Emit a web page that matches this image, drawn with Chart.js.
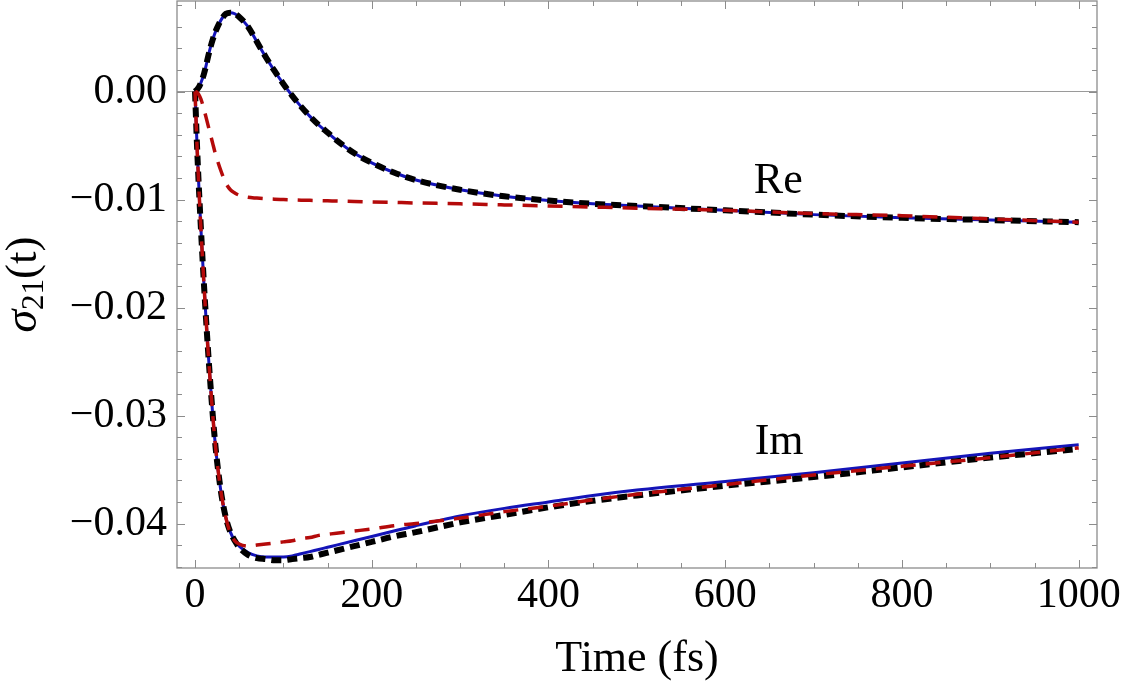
<!DOCTYPE html>
<html>
<head>
<meta charset="utf-8">
<script src="https://cdn.jsdelivr.net/npm/chart.js@4.4.1/dist/chart.umd.min.js"></script>
<style>
  html, body { margin: 0; padding: 0; background: #fff; }
  #wrap { width: 1125px; height: 686px; }
</style>
</head>
<body>
<div id="wrap"><canvas id="sigmaChart"></canvas></div>
<script>
// time grid (fs), shared by all six curves
const times = [0, 2.5, 5, 7.5, 10, 12.5, 15, 17.5, 20, 22.5, 25, 30, 35, 40, 45, 50, 60, 70, 80, 90,
  100, 110, 120, 130, 140, 150, 160, 180, 200, 225, 250, 300, 350, 400, 450, 500, 600, 700, 800, 900, 1000];

// Re part: solid blue, thick black dashed, thin red dashed
const reSolid = [0, 0.0002, 0.0005, 0.0010, 0.0016, 0.0024, 0.0033, 0.0041, 0.0048, 0.0054, 0.0059, 0.0067, 0.0072, 0.0073, 0.0072, 0.0069, 0.0060, 0.0046, 0.0032, 0.0019,
  0.0007, -0.0004, -0.0014, -0.0023, -0.0031, -0.0038, -0.0045, -0.0057, -0.0066, -0.0075, -0.0082, -0.0091, -0.0097, -0.0101, -0.0104, -0.0106, -0.0110, -0.0114, -0.0117, -0.0119, -0.0121];
const reThick = [0, 0.0002, 0.0005, 0.0010, 0.0016, 0.0024, 0.0033, 0.0041, 0.0048, 0.0054, 0.0059, 0.0067, 0.0072, 0.0073, 0.0072, 0.0069, 0.0060, 0.0046, 0.0032, 0.0019,
  0.0007, -0.0004, -0.0014, -0.0023, -0.0031, -0.0038, -0.0045, -0.0057, -0.0066, -0.0075, -0.0082, -0.0091, -0.0097, -0.0101, -0.0104, -0.0106, -0.0110, -0.0114, -0.0117, -0.0119, -0.0121];
const reThin = [0, -0.0001, -0.0004, -0.0009, -0.0016, -0.0024, -0.0032, -0.0040, -0.0048, -0.0056, -0.0063, -0.0075, -0.0085, -0.0091, -0.0094, -0.0096, -0.00980, -0.00987, -0.00993, -0.00997,
  -0.01000, -0.01003, -0.01006, -0.01008, -0.01010, -0.01012, -0.01014, -0.01018, -0.01022, -0.01027, -0.01032, -0.0104, -0.0105, -0.0106, -0.0107, -0.0108, -0.0110, -0.0113, -0.0115, -0.0118, -0.0121];

// Im part
const imSolid = [0, -0.0055, -0.0100, -0.0140, -0.0177, -0.0211, -0.0243, -0.0272, -0.0299, -0.0323, -0.0343, -0.0374, -0.0395, -0.0408, -0.0416, -0.0421, -0.0427, -0.0430, -0.0431, -0.0431,
  -0.0431, -0.0430, -0.0428, -0.0426, -0.0424, -0.0422, -0.0420, -0.0416, -0.0412, -0.0407, -0.0402, -0.0393, -0.0386, -0.0380, -0.0374, -0.0369, -0.0361, -0.0353, -0.0344, -0.0335, -0.0327];
const imThick = [0, -0.0055, -0.0100, -0.0140, -0.0177, -0.0211, -0.0243, -0.0272, -0.0299, -0.0323, -0.0343, -0.0374, -0.0395, -0.0408, -0.0416, -0.0422, -0.0429, -0.0432, -0.0433, -0.0434,
  -0.0434, -0.0433, -0.0432, -0.0431, -0.0429, -0.0427, -0.0425, -0.0421, -0.0417, -0.0412, -0.0408, -0.0399, -0.0392, -0.0385, -0.0379, -0.0374, -0.0365, -0.0357, -0.0348, -0.0339, -0.0331];
const imThin = [0, -0.0055, -0.0100, -0.0140, -0.0177, -0.0211, -0.0243, -0.0272, -0.0299, -0.0323, -0.0343, -0.0374, -0.0395, -0.0409, -0.0416, -0.0419, -0.0421, -0.0420, -0.0419, -0.0418,
  -0.0417, -0.0416, -0.0414, -0.0413, -0.0411, -0.0410, -0.0409, -0.0407, -0.0405, -0.0402, -0.0400, -0.0395, -0.0389, -0.0384, -0.0378, -0.0373, -0.0364, -0.0355, -0.0347, -0.0339, -0.0330];

// in-plot text labels
const noteTexts = ['Re', 'Im'];
const noteX = [660, 661];
const noteY = [-0.0094, -0.0336];

// axes
const xRange = [-20.4, 1020.7];
const yRange = [-0.04412, 0.00838];
const xStep = 200, xMinor = 50;
const yStep = 0.01, yMinor = 0.002;

const SERIF = '"Liberation Serif", "Times New Roman", serif';
Chart.defaults.font.family = SERIF;
Chart.defaults.color = '#000';

const pts = vals => times.map((t, i) => ({ x: t, y: vals[i] }));

function solid(vals) {
  return { data: pts(vals), borderColor: '#1414b8', borderWidth: 3, order: 2 };
}
function thick(vals) {
  return { data: pts(vals), borderColor: '#000', borderWidth: 6, borderDash: [10, 6], order: 1 };
}
function thin(vals) {
  return { data: pts(vals), borderColor: '#b40a0a', borderWidth: 3.5, borderDash: [15, 10], order: 0 };
}

// frame with inward ticks, Re/Im notes and the y title
const decor = {
  id: 'decor',
  afterDraw(chart) {
    const { ctx, chartArea: a, scales: { x, y } } = chart;
    ctx.save();
    ctx.strokeStyle = '#8c8c8c';
    ctx.lineWidth = 1.3;
    ctx.strokeRect(a.left, a.top, a.right - a.left, a.bottom - a.top);
    ctx.beginPath();
    for (let t = 0; t <= 1000; t += xMinor) {
      const len = t % xStep === 0 ? 8 : 5;
      const px = Math.round(x.getPixelForValue(t)) + 0.5;
      ctx.moveTo(px, a.bottom); ctx.lineTo(px, a.bottom - len);
      ctx.moveTo(px, a.top); ctx.lineTo(px, a.top + len);
    }
    for (let k = -22; k <= 4; k++) {
      const len = k % 5 === 0 ? 8 : 5;
      const py = Math.round(y.getPixelForValue(k * yMinor)) + 0.5;
      ctx.moveTo(a.left, py); ctx.lineTo(a.left + len, py);
      ctx.moveTo(a.right, py); ctx.lineTo(a.right - len, py);
    }
    ctx.lineWidth = 1;
    ctx.stroke();

    ctx.fillStyle = '#000';
    ctx.font = '44px ' + SERIF;
    ctx.textAlign = 'center';
    ctx.textBaseline = 'alphabetic';
    noteTexts.forEach((s, i) => {
      ctx.fillText(s, x.getPixelForValue(noteX[i]), y.getPixelForValue(noteY[i]));
    });

    // y title: italic sigma, subscript 21, (t)
    ctx.translate(36, (a.top + a.bottom) / 2);
    ctx.rotate(-Math.PI / 2);
    ctx.textAlign = 'left';
    const fBig = 'italic 46px ' + SERIF, fSub = '31px ' + SERIF, fReg = '45px ' + SERIF;
    ctx.font = fBig; const w1 = ctx.measureText('σ').width;
    ctx.font = fSub; const w2 = ctx.measureText('21').width;
    ctx.font = fReg; const w3 = ctx.measureText('(t)').width;
    let cx = -(w1 + w2 + w3) / 2;
    ctx.font = fBig; ctx.fillText('σ', cx, 0); cx += w1;
    ctx.font = fSub; ctx.fillText('21', cx, 7); cx += w2;
    ctx.font = fReg; ctx.fillText('(t)', cx, 0);
    ctx.restore();
  }
};

new Chart(document.getElementById('sigmaChart'), {
  type: 'line',
  data: {
    datasets: [
      thin(reThin), thick(reThick), solid(reSolid),
      thin(imThin), thick(imThick), solid(imSolid)
    ]
  },
  options: {
    responsive: true,
    maintainAspectRatio: false,
    animation: false,
    layout: { padding: { left: 0, right: 28, top: 1, bottom: 0 } },
    elements: {
      point: { radius: 0 },
      line: { cubicInterpolationMode: 'monotone', fill: false, borderCapStyle: 'butt' }
    },
    plugins: { legend: { display: false }, tooltip: { enabled: false } },
    scales: {
      x: {
        type: 'linear',
        min: xRange[0], max: xRange[1],
        afterFit: s => { s.height = 118; s.paddingLeft = 0; s.paddingRight = 0; },
        grid: { display: false },
        border: { display: false },
        ticks: {
          stepSize: xStep, includeBounds: false, padding: -5,
          font: { size: 42 }, color: '#000', maxRotation: 0,
          callback: v => String(Math.round(v))
        },
        title: { display: true, text: 'Time (fs)', font: { size: 44 }, color: '#000', padding: { top: 0, bottom: 0 } }
      },
      y: {
        type: 'linear',
        min: yRange[0], max: yRange[1],
        afterFit: s => { s.width = 177; s.paddingTop = 0; s.paddingBottom = 0; },
        border: { display: false },
        grid: {
          drawTicks: false,
          lineWidth: 1,
          color: c => Math.abs(c.tick.value) < 1e-9 ? '#9a9a9a' : 'rgba(0,0,0,0)'
        },
        ticks: {
          stepSize: yStep, includeBounds: false, padding: 10,
          font: { size: 42 }, color: '#000',
          callback: v => (v < -1e-9 ? '\u2212' : '') + Math.abs(v).toFixed(2)
        }
      }
    }
  },
  plugins: [decor]
});
</script>
</body>
</html>
